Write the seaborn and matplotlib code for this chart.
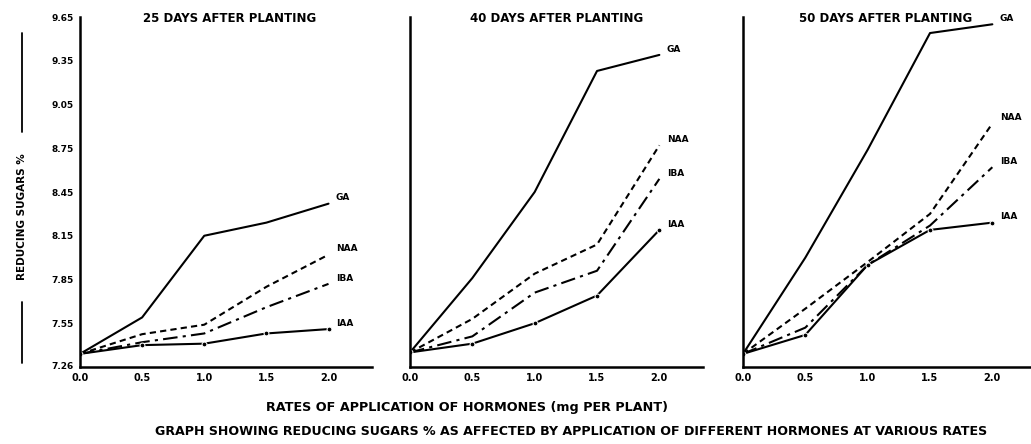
import matplotlib
matplotlib.use('Agg')
import matplotlib.pyplot as plt
import seaborn as sns
import pandas as pd
from matplotlib.lines import Line2D

rates = [0.0, 0.5, 1.0, 1.5, 2.0]
hormones = ['GA', 'NAA', 'IBA', 'IAA']
panel_titles = ['25 DAYS AFTER PLANTING', '40 DAYS AFTER PLANTING', '50 DAYS AFTER PLANTING']

ga_25 = [7.34, 7.59, 8.15, 8.24, 8.37]
naa_25 = [7.34, 7.475, 7.54, 7.80, 8.02]
iba_25 = [7.34, 7.42, 7.48, 7.66, 7.82]
iaa_25 = [7.34, 7.40, 7.41, 7.48, 7.51]

ga_40 = [7.35, 7.86, 8.45, 9.28, 9.39]
naa_40 = [7.35, 7.58, 7.89, 8.09, 8.77]
iba_40 = [7.35, 7.46, 7.76, 7.91, 8.54]
iaa_40 = [7.35, 7.41, 7.55, 7.74, 8.19]

ga_50 = [7.34, 8.00, 8.74, 9.54, 9.60]
naa_50 = [7.34, 7.65, 7.97, 8.30, 8.92]
iba_50 = [7.34, 7.52, 7.95, 8.22, 8.62]
iaa_50 = [7.34, 7.47, 7.95, 8.19, 8.24]

y_ticks = [7.26, 7.55, 7.85, 8.15, 8.45, 8.75, 9.05, 9.35, 9.65]
y_tick_labels = ['7.26', '7.55', '7.85', '8.15', '8.45', '8.75', '9.05', '9.35', '9.65']
x_tick_labels = ['0.0', '0.5', '1.0', '1.5', '2.0']

panels = [
    {'GA': ga_25, 'NAA': naa_25, 'IBA': iba_25, 'IAA': iaa_25},
    {'GA': ga_40, 'NAA': naa_40, 'IBA': iba_40, 'IAA': iaa_40},
    {'GA': ga_50, 'NAA': naa_50, 'IBA': iba_50, 'IAA': iaa_50},
]

sns.set_style('white')
plt.rcParams['font.family'] = ['DejaVu Sans']
plt.rcParams['font.weight'] = 'bold'
plt.rcParams['text.color'] = 'black'
plt.rcParams['xtick.color'] = 'black'
plt.rcParams['ytick.color'] = 'black'
plt.rcParams['xtick.labelcolor'] = 'black'
plt.rcParams['ytick.labelcolor'] = 'black'

fig = plt.figure(figsize=(10.31, 4.44), dpi=100)
bottom = 1 - 367 / 444
height = (367 - 17) / 444
lefts = [80 / 1031, 410 / 1031, 743 / 1031]
widths = [292 / 1031, 293 / 1031, 288 / 1031]
xmaxs = [2.35, 2.35, 2.31]
title_x = [230, 557, 886]

dashes = {'GA': '', 'NAA': (3, 2), 'IBA': (7, 2.5, 1.5, 2.5), 'IAA': ''}

for i, data in enumerate(panels):
    ax = fig.add_axes([lefts[i], bottom, widths[i], height])
    rows = []
    for h in hormones:
        for r, v in zip(rates, data[h]):
            rows.append({'rate': r, 'value': v, 'hormone': h})
    df = pd.DataFrame(rows)
    sns.lineplot(data=df, x='rate', y='value', hue='hormone', style='hormone',
                 palette={h: 'black' for h in hormones}, dashes=dashes,
                 markers={h: ('o' if h == 'IAA' else '.') for h in hormones},
                 markersize=3.5, linewidth=1.5, legend=False, ax=ax)
    for line in ax.get_lines():
        if line.get_marker() == '.':
            line.set_marker('None')
    ax.set_xlim(0, xmaxs[i])
    ax.set_ylim(7.25, 9.65)
    ax.set_xticks(rates)
    ax.set_xticklabels(x_tick_labels, fontsize=7, fontweight='bold')
    ax.set_yticks(y_ticks)
    if i == 0:
        ax.set_yticklabels(y_tick_labels, fontsize=6.5, fontweight='bold')
    else:
        ax.set_yticklabels([])
    ax.set_xlabel('')
    ax.set_ylabel('')
    ax.tick_params(axis='both', direction='inout', length=5, width=1.2, color='black', pad=2)
    for s in ['top', 'right']:
        ax.spines[s].set_visible(False)
    for s in ['left', 'bottom']:
        ax.spines[s].set_color('black')
        ax.spines[s].set_linewidth(1.8)
    fig.text(title_x[i] / 1031, 1 - 18 / 444, panel_titles[i],
             ha='center', va='center', fontsize=8.5, fontweight='bold')
    for h in hormones:
        ax.text(2.06, data[h][-1] + 0.04, h, fontsize=6.5, fontweight='bold',
                ha='left', va='center')
    ax.patch.set_alpha(0)

fig.text(22 / 1031, 1 - 217 / 444, 'REDUCING SUGARS %', rotation=90, ha='center', va='center',
         fontsize=7.5, fontweight='bold')
fig.add_artist(Line2D([22 / 1031, 22 / 1031], [1 - 33 / 444, 1 - 132 / 444], color='black', lw=1.3))
fig.add_artist(Line2D([22 / 1031, 22 / 1031], [1 - 302 / 444, 1 - 363 / 444], color='black', lw=1.3))

fig.text(467 / 1031, 1 - 407 / 444, 'RATES OF APPLICATION OF HORMONES (mg PER PLANT)',
         ha='center', va='center', fontsize=9.2, fontweight='bold')
fig.text(155 / 1031, 1 - 431 / 444,
         'GRAPH SHOWING REDUCING SUGARS % AS AFFECTED BY APPLICATION OF DIFFERENT HORMONES AT VARIOUS RATES',
         ha='left', va='center', fontsize=9.1, fontweight='bold')

fig.savefig('out.png', dpi=100)
